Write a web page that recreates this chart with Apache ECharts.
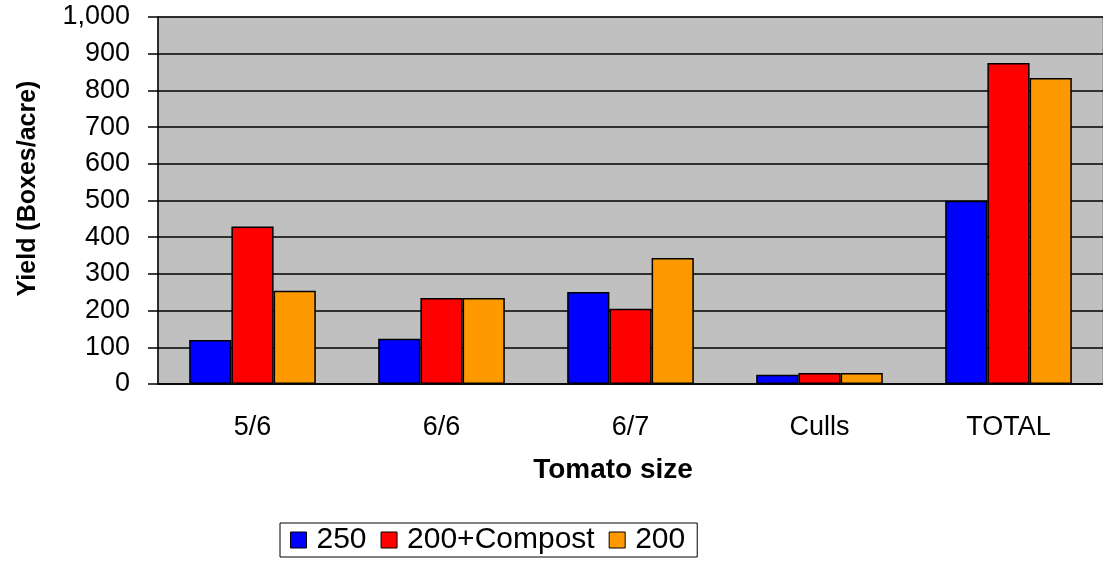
<!DOCTYPE html>
<html>
<head>
<meta charset="utf-8">
<script src="https://cdn.jsdelivr.net/npm/echarts@6/dist/echarts.min.js"></script>
<style>
  html, body { margin: 0; padding: 0; background: #fff; }
</style>
</head>
<body>
<div id="main" style="width: 1103px;height: 568px;"></div>
<script>
  // tomato yield by size class
  let sizes = ['5/6', '6/6', '6/7', 'Culls', 'TOTAL']
  let n250 = [120, 123, 251, 25, 499]
  let n200Compost = [429, 234, 205, 30, 875]
  let n200 = [254, 234, 343, 30, 834]
  let colors = ['#0000ff', '#ff0000', '#ff9900']
  let font = 'Liberation Sans, Arial, sans-serif'

  let chart = echarts.init(document.getElementById('main'))
  let barStyle = { borderColor: '#000', borderWidth: 1.5 }
  chart.setOption({
    color: colors,
    animation: false,
    textStyle: { fontFamily: font },
    grid: {
      left: 158, top: 17, right: -9, bottom: 184,
      show: true, backgroundColor: '#c0c0c0', borderColor: '#808080', borderWidth: 1
    },
    legend: {
      left: 280, top: 523,
      data: ['250', '200+Compost', '200'],
      icon: 'rect', itemWidth: 16, itemHeight: 16, itemGap: 14,
      itemStyle: { borderColor: '#000', borderWidth: 1 },
      textStyle: { fontSize: 30, color: '#000', fontFamily: font, padding: [0, 0, 0, 5] },
      borderColor: '#000', borderWidth: 1, padding: [2, 12, 2, 10]
    },
    xAxis: {
      type: 'category',
      data: sizes,
      name: 'Tomato size',
      nameLocation: 'middle',
      nameGap: 72,
      nameTextStyle: {
        fontSize: 28, fontWeight: 'bold', color: '#000', verticalAlign: 'top',
        padding: [0, 35, 0, 0]
      },
      axisLine: { lineStyle: { color: '#000', width: 1.5 } },
      axisTick: { length: 9, lineStyle: { color: '#000', width: 1.5 } },
      axisLabel: { fontSize: 27, color: '#000', margin: 30 }
    },
    yAxis: {
      type: 'value',
      min: 0, max: 1000, interval: 100,
      name: 'Yield (Boxes/acre)',
      nameLocation: 'middle',
      nameRotate: 90,
      nameGap: 117,
      nameTextStyle: { fontSize: 25, fontWeight: 'bold', color: '#000', padding: [0, 0, 0, 24] },
      axisLine: { show: true, lineStyle: { color: '#000', width: 1.5 } },
      axisTick: { show: true, length: 10, lineStyle: { color: '#000', width: 1.5 } },
      axisLabel: {
        fontSize: 27, color: '#000', margin: 28,
        formatter: function (v) { return v.toLocaleString('en-US') }
      },
      splitLine: { lineStyle: { color: '#000', width: 1.5 } }
    },
    series: [
      { name: '250', type: 'bar', data: n250, barGap: '0%', barCategoryGap: '33%', itemStyle: barStyle },
      { name: '200+Compost', type: 'bar', data: n200Compost, barGap: '0%', barCategoryGap: '33%', itemStyle: barStyle },
      { name: '200', type: 'bar', data: n200, barGap: '0%', barCategoryGap: '33%', itemStyle: barStyle }
    ]
  })
</script>
</body>
</html>
